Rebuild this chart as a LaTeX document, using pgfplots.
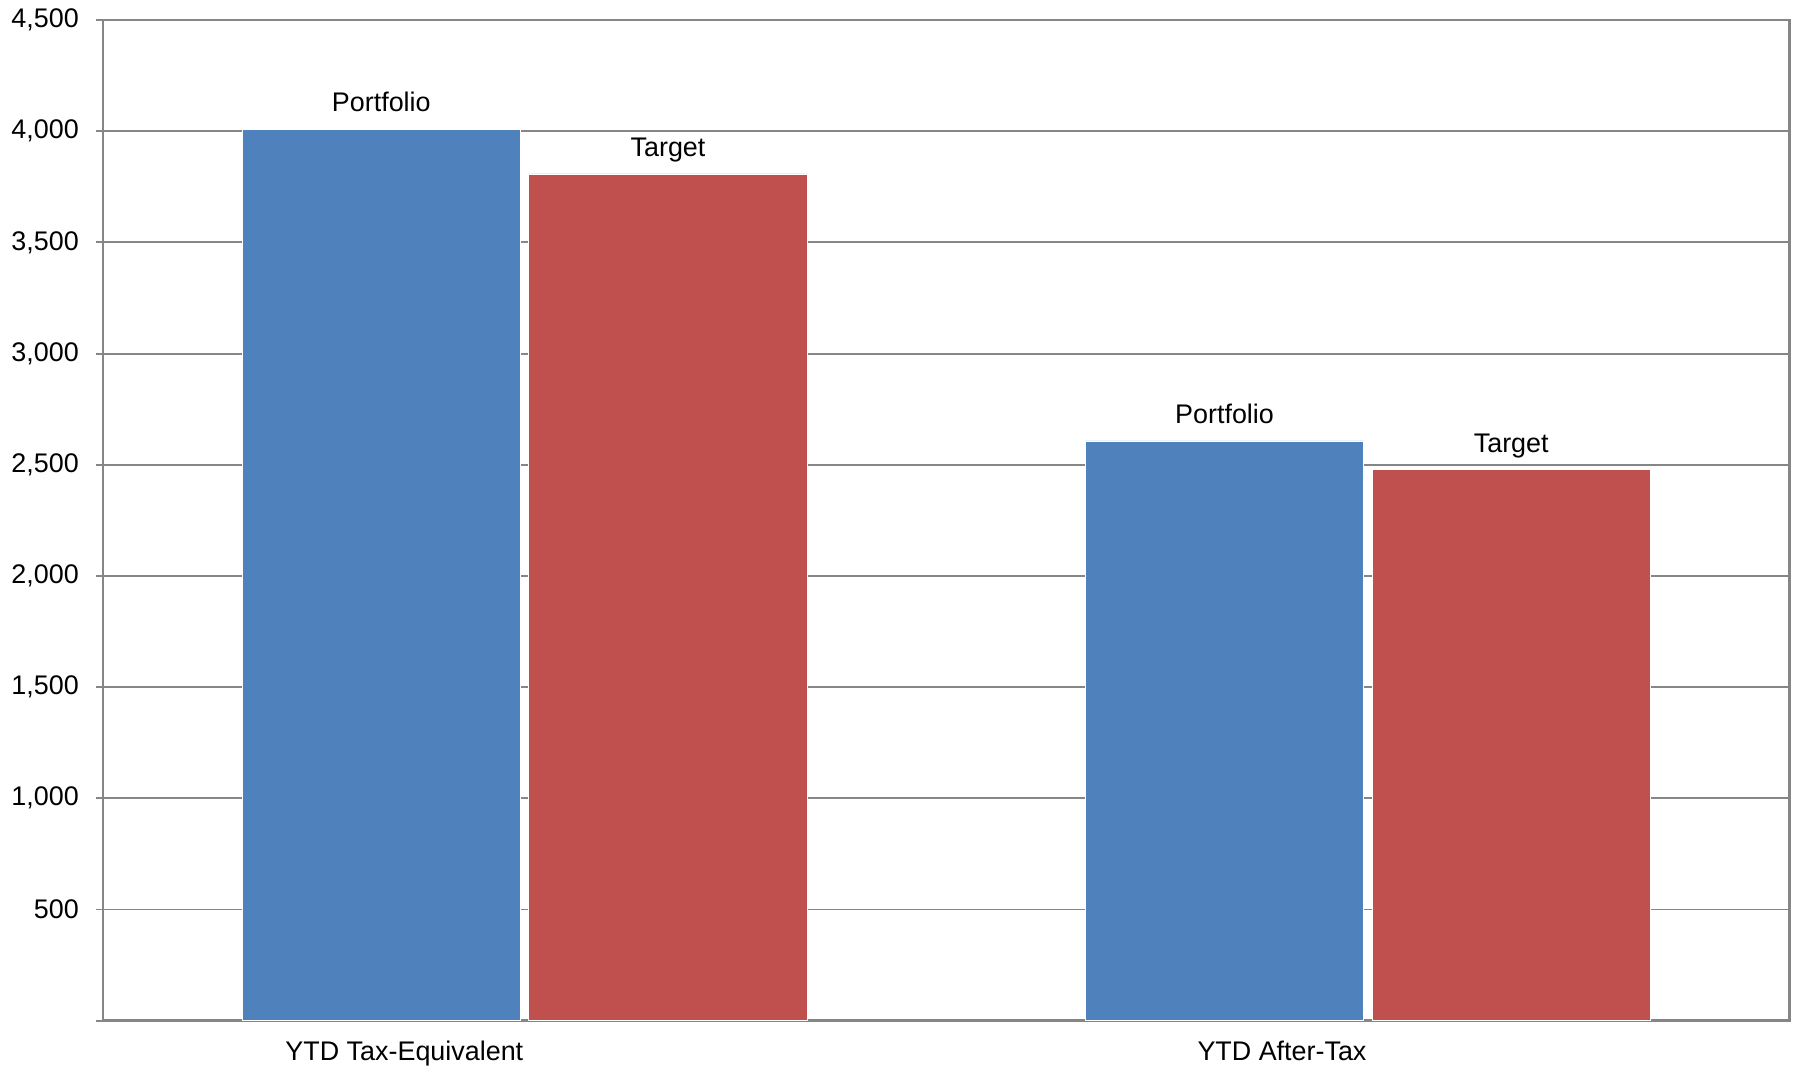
\documentclass[border=0pt]{standalone}
\usepackage{fontspec}
\setmainfont{Liberation Sans}
\usepackage{pgfplots}
\pgfplotsset{compat=1.18}
\definecolor{barblue}{HTML}{4F81BD}
\definecolor{barred}{HTML}{C0504D}
\definecolor{axgray}{HTML}{868686}
\begin{document}
\begin{tikzpicture}
\begin{axis}[
  name=ax,
  scale only axis,
  width=626.8pt, height=371.9pt,
  xmin=-0.5, xmax=1.5,
  ymin=0, ymax=4500,
  font=\fontsize{10}{12}\selectfont,
  axis line style={axgray, line width=0.9pt},
  every outer x axis line/.append style={line width=1.4pt},
  ymajorgrids,
  grid style={axgray, line width=0.7pt},
  major grid style={axgray, line width=0.7pt},
  ytick={0,500,...,4500},
  yticklabels={,500,{1,000},{1,500},{2,000},{2,500},{3,000},{3,500},{4,000},{4,500}},
  yticklabel style={xshift=-3pt},
  tick align=outside,
  ytick pos=left,
  xtick pos=bottom,
  major tick length=2.5pt,
  tick style={axgray, line width=0.7pt},
  xtick={0,1},
  xticklabels={YTD Tax-Equivalent, YTD After-Tax},
  x tick style={draw=none},
  xticklabel style={anchor=north east, yshift=-1.6pt, xshift=3pt},
  extra x ticks={-0.5,0.5,1.5},
  extra x tick labels={},
  extra x tick style={tick style={draw=axgray, line width=0.7pt}, major tick length=3.4pt, grid=none},
  ybar,
  bar width=0.33,
  nodes near coords,
  every node near coord/.append style={anchor=base, yshift=6.5pt, font=\fontsize{10}{12}\selectfont},
]
\addplot[fill=barblue, draw=white, line width=0.3pt, bar shift=-0.17, nodes near coords={Portfolio}]
  coordinates {(0,4010) (1,2607)};
\addplot[fill=barred, draw=white, line width=0.3pt, bar shift=0.17, nodes near coords={Target}]
  coordinates {(0,3808) (1,2477)};
\end{axis}
\path (ax.south west) ++(-38.3pt,-18pt) coordinate (bl);
\path (ax.north east) ++(2.1pt,6.4pt) coordinate (tr);
\path (bl) rectangle (tr);
\end{tikzpicture}
\end{document}
